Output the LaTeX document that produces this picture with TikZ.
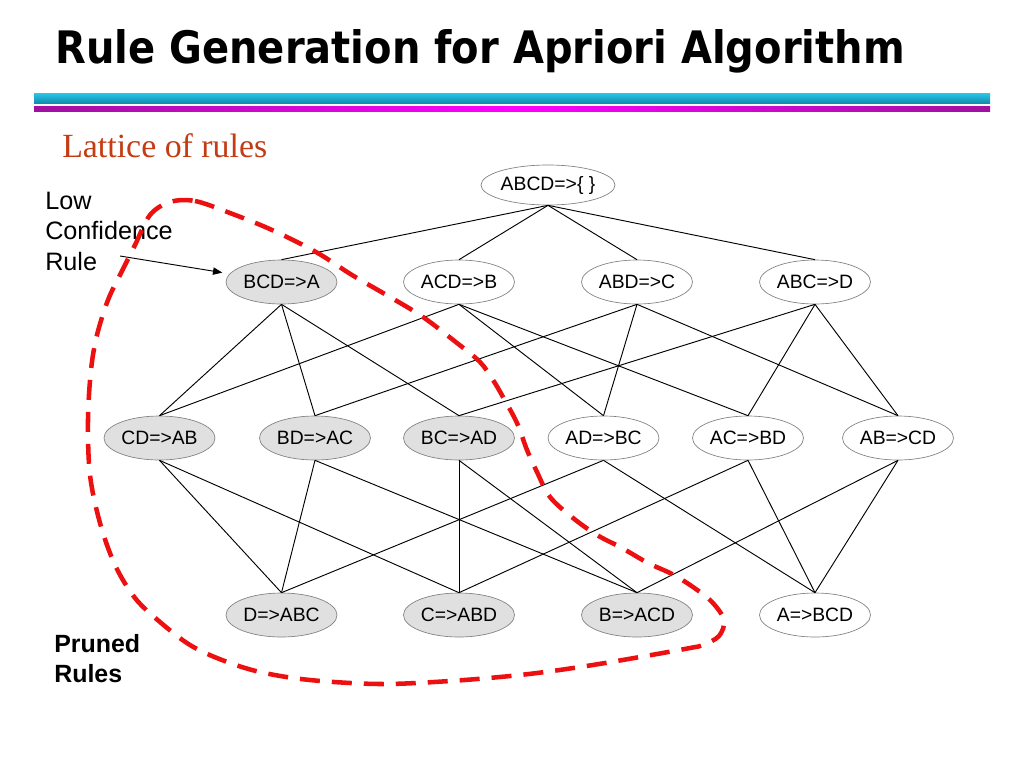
\documentclass[tikz,border=0pt]{standalone}
\usepackage{graphicx}
\usepackage{fontspec}
\setmainfont{Liberation Sans}
\newfontfamily\titlefont{DejaVu Sans}
\newfontfamily\seriffont{Liberation Serif}
\usetikzlibrary{arrows.meta,shapes.geometric}
\definecolor{prunedgray}{RGB}{224,224,224}
\definecolor{ellgray}{RGB}{128,128,128}
\definecolor{lattred}{RGB}{196,60,20}
\definecolor{dashred}{RGB}{236,16,16}
\definecolor{cyantop}{RGB}{40,200,232}
\definecolor{cyanbot}{RGB}{18,140,175}
\definecolor{magend}{RGB}{160,16,160}
\definecolor{magmid}{RGB}{255,0,255}
\begin{document}
\begin{tikzpicture}[x=0.75pt,y=-0.75pt,
  rulenode/.style={ellipse, draw=ellgray, line width=0.5pt, fill=white,
    minimum width=83.25pt, minimum height=33pt, inner sep=0pt,
    font=\fontsize{14.5}{17}\selectfont},
  prunednode/.style={rulenode, fill=prunedgray},
  edge/.style={line width=0.7pt, black},
  pruneline/.style={dashred, line width=3.4pt, dash pattern=on 15pt off 9pt}]
\useasboundingbox (0,0) rectangle (1024,768);
\fill[white] (0,0) rectangle (1024,768);
% title and bars
\node[anchor=base west, inner sep=0pt] (title) at (55,63)
  {\resizebox{637pt}{25.5pt}{\titlefont\bfseries Rule Generation for Apriori Algorithm}};
\shade[top color=cyantop, bottom color=cyanbot] (34,93) rectangle (990,103);
\shade[left color=magend, right color=magend, middle color=magmid] (34,106) rectangle (990,111);
\node[anchor=base west, inner sep=0pt, text=lattred, font=\seriffont\fontsize{25.4}{29}\selectfont] (lattice) at (62,157) {Lattice of rules};
% nodes
\node[rulenode, minimum width=100.5pt, minimum height=30pt] (top) at (548,185) {ABCD=>\{ \}};
\node[prunednode] (bcd) at (281.5,282) {BCD=>A};
\node[rulenode] (acd) at (459,282) {ACD=>B};
\node[rulenode] (abd) at (637,282) {ABD=>C};
\node[rulenode] (abc) at (815,282) {ABC=>D};
\node[prunednode] (cd) at (159.5,438) {CD=>AB};
\node[prunednode] (bd) at (315,438) {BD=>AC};
\node[prunednode] (bc) at (459,438) {BC=>AD};
\node[rulenode] (ad) at (603.5,438) {AD=>BC};
\node[rulenode] (ac) at (748,438) {AC=>BD};
\node[rulenode] (ab) at (898,438) {AB=>CD};
\node[prunednode] (d) at (281.5,615) {D=>ABC};
\node[prunednode] (c) at (459,615) {C=>ABD};
\node[prunednode] (b) at (637,615) {B=>ACD};
\node[rulenode] (a) at (815,615) {A=>BCD};
% edges
\foreach \n in {bcd,acd,abd,abc} \draw[edge] (top.south) -- (\n.north);
\foreach \p/\q in {bcd/cd,bcd/bd,bcd/bc,acd/cd,acd/ad,acd/ac,abd/bd,abd/ad,abd/ab,abc/bc,abc/ac,abc/ab,
  cd/d,cd/c,bd/d,bd/b,bc/c,bc/b,ad/d,ad/a,ac/c,ac/a,ab/b,ab/a}
  \draw[edge] (\p.south) -- (\q.north);
% labels
\node[anchor=base west, inner sep=0pt, font=\fontsize{18.9}{22.9}\selectfont] (lowconf) at (45,209)
  {\begin{tabular}[t]{@{}l@{}}Low\\Confidence\\Rule\end{tabular}};
\node[anchor=base west, inner sep=0pt, font=\bfseries\fontsize{18.7}{23.2}\selectfont] (pruned) at (54,652)
  {\begin{tabular}[t]{@{}l@{}}Pruned\\Rules\end{tabular}};
\coordinate (lcstart) at (120,256);
\draw[edge, -{Triangle[length=7pt,width=5.5pt]}, shorten >=5.5pt] (lcstart) -- (bcd.171);
% pruned region
\draw[pruneline] plot[smooth cycle, tension=0.55] coordinates {
  (170,202) (195,201) (230,213) (272,230) (316,252) (352,275) (390,297) (423,317)
  (457,343) (480,362) (493,380) (503,397) (517,423) (527,450) (537,472) (550,497)
  (573,518) (597,535) (622,548) (648,563) (672,574) (693,587) (712,602) (724,620)
  (719,636) (703,645) (690,648) (640,657) (580,667) (520,675) (450,681) (380,684)
  (310,680) (260,672) (222,660) (190,645) (160,622) (135,598) (115,565) (100,523)
  (90,475) (88,420) (91,370) (97,335) (108,300) (120,275) (135,245) (150,215)};
\end{tikzpicture}
\end{document}
